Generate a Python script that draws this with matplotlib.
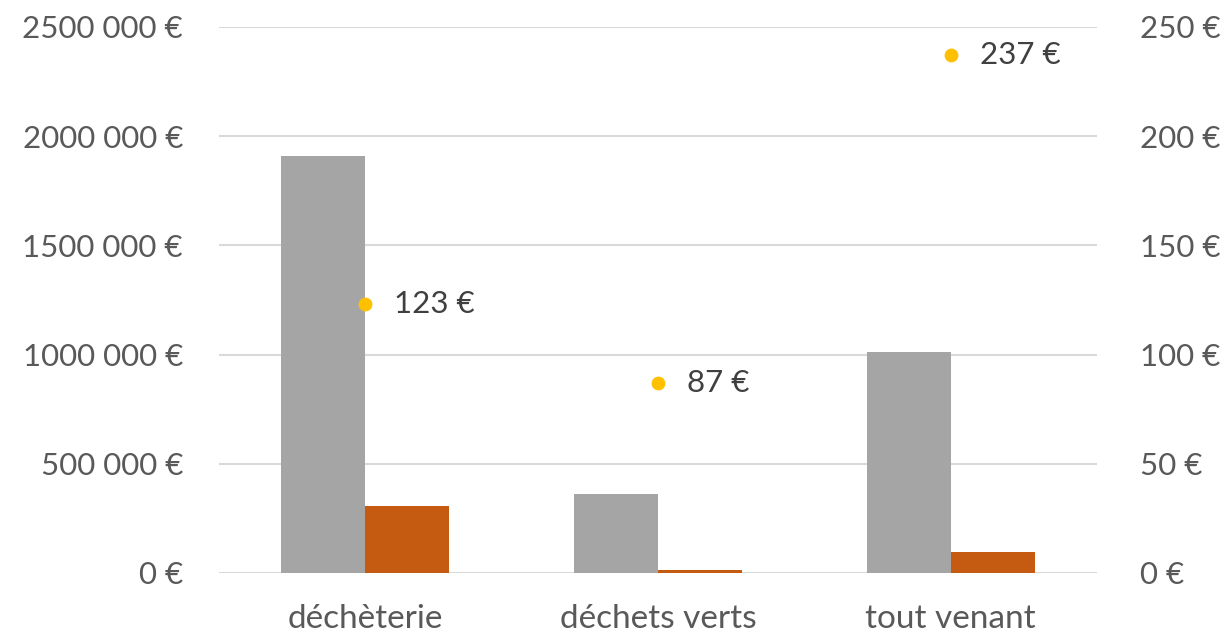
import matplotlib.pyplot as plt
import numpy as np

plt.rcParams['font.family'] = ['Lato', 'DejaVu Sans']

categories = ['déchèterie', 'déchets verts', 'tout venant']
cout_total = [1910000, 362000, 1012000]
cout_autre = [307000, 14000, 96000]
cout_tonne = [123, 87, 237]
left_ticks = [0, 500000, 1000000, 1500000, 2000000, 2500000]
left_labels = ['0 €', '500 000 €', '1000 000 €', '1500 000 €', '2000 000 €', '2500 000 €']
right_ticks = [0, 50, 100, 150, 200, 250]
right_labels = ['0 €', '50 €', '100 €', '150 €', '200 €', '250 €']

txt = '#595959'
fs = 22.5

fig = plt.figure(figsize=(12.3, 6.38), dpi=100)
ax = fig.add_axes([219 / 1230, 1 - 573 / 638, (1097 - 219) / 1230, (573 - 27) / 638])

x = np.arange(len(categories))
w = 0.287
ax.bar(x - w / 2, cout_total, width=w, color='#A5A5A5', zorder=2)
ax.bar(x + w / 2, cout_autre, width=w, color='#C55A11', zorder=2)

ax.set_xlim(-0.5, 2.5)
ax.set_ylim(0, 2500000)
ax.set_yticks(left_ticks)
ax.set_yticklabels(left_labels)
ax.set_xticks(x)
ax.set_xticklabels(categories)
ax.grid(axis='y', color='#D9D9D9', linewidth=1.5, zorder=0)
ax.tick_params(axis='both', length=0, labelsize=fs, labelcolor=txt)
ax.tick_params(axis='y', pad=26)
ax.tick_params(axis='x', pad=22, labelsize=24)
for s in ax.spines.values():
    s.set_visible(False)

ax2 = ax.twinx()
ax2.set_ylim(0, 250)
ax2.set_yticks(right_ticks)
ax2.set_yticklabels(right_labels)
ax2.tick_params(axis='y', length=0, labelsize=fs, labelcolor=txt, pad=31)
for s in ax2.spines.values():
    s.set_visible(False)
ax2.scatter(x, cout_tonne, s=80, color='#FFC000', zorder=3)
for xi, v in zip(x, cout_tonne):
    ax2.annotate(f'{v} €', (xi, v), xytext=(21, 0), textcoords='offset points',
                 ha='left', va='center', fontsize=fs, color='#404040')

fig.savefig('out.png', dpi=100)
